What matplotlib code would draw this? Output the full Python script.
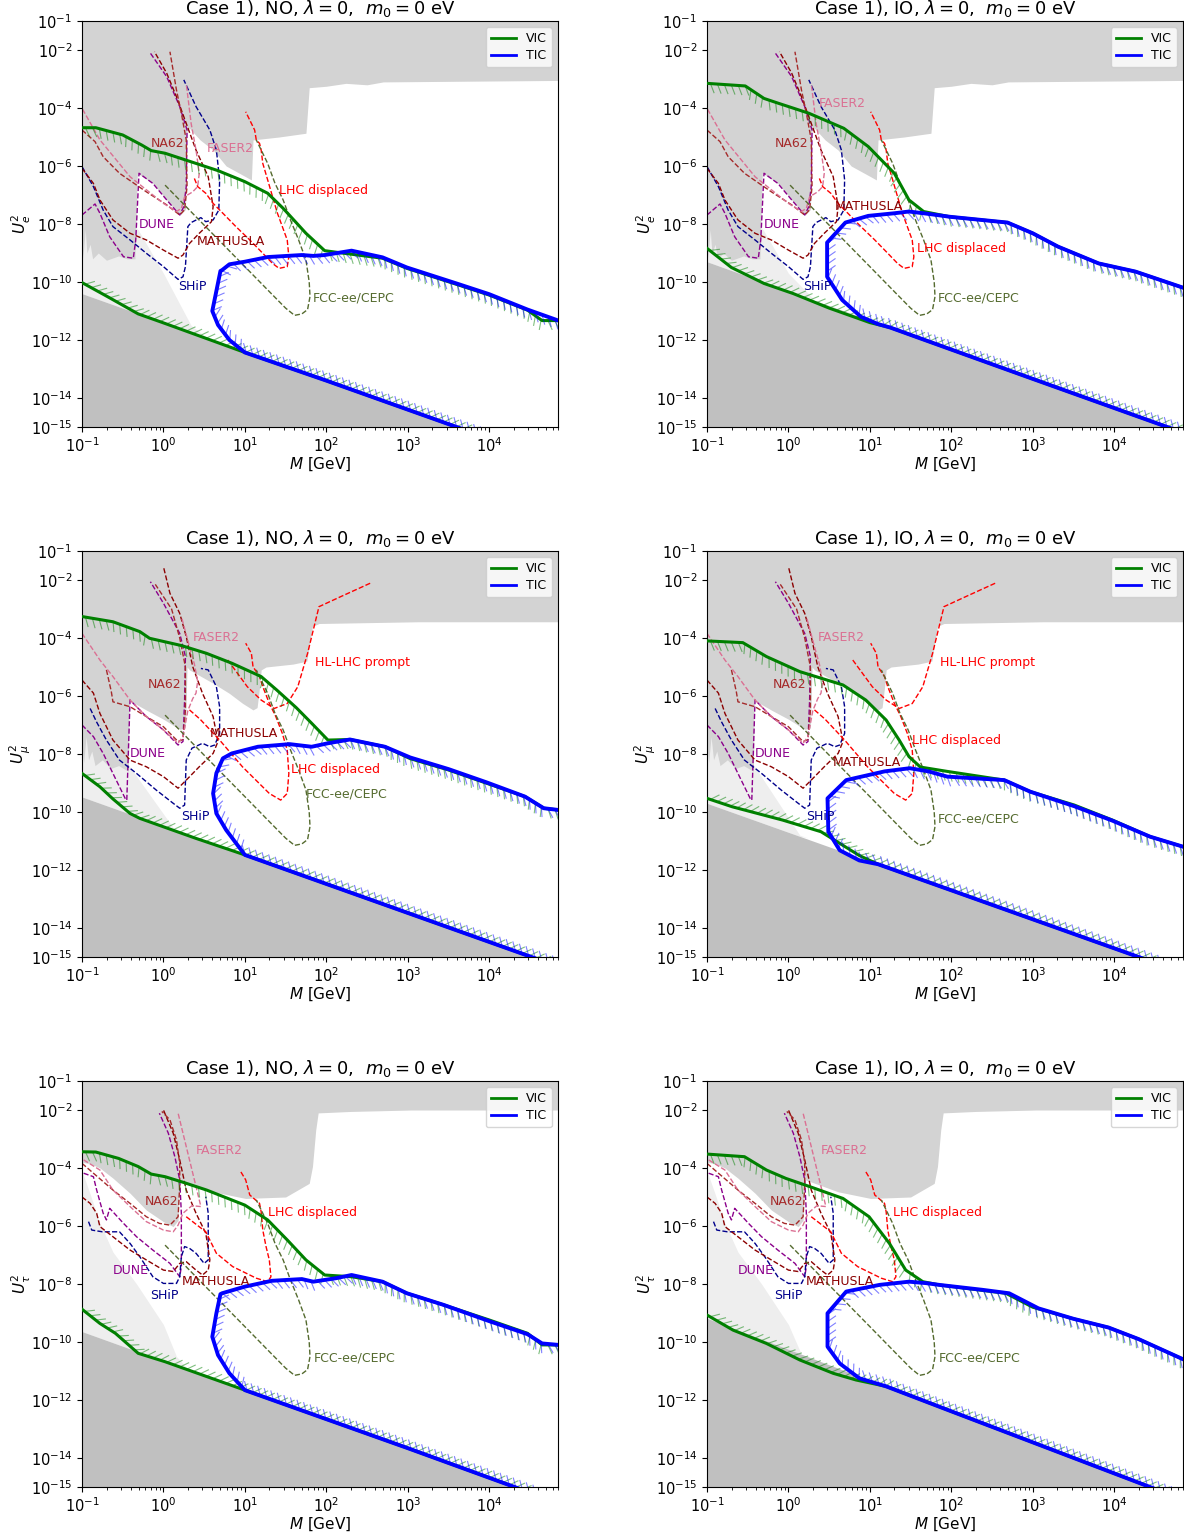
import numpy as np
import matplotlib
matplotlib.use('Agg')
import matplotlib.pyplot as plt
from matplotlib import patheffects as pe
from matplotlib.lines import Line2D
from matplotlib.ticker import NullLocator

# all curves are stored as (log10 M [GeV], log10 U^2) pairs

# excluded region from past experiments (upper gray), per flavour
GRAY_E = [(-1.0, -8.3), (-0.99, -9.2), (-0.96, -8.2), (-0.94, -9.0), (-0.9, -8.7), (-0.87, -9.2),
          (-0.8, -9.0), (-0.7, -9.25), (-0.55, -9.1), (-0.45, -9.2), (-0.35, -9.2), (-0.32, -6.25),
          (-0.13, -6.6), (0.04, -7.17), (0.2, -7.7), (0.27, -7.5), (0.29, -4.76), (0.32, -4.7),
          (0.45, -5.1), (0.61, -5.45), (0.77, -6.0), (1.01, -6.37), (1.08, -6.48), (1.10, -5.1),
          (1.42, -5.0), (1.75, -4.87), (1.79, -3.3), (2.0, -3.25), (2.24, -3.15), (2.5, -3.2),
          (2.7, -3.1), (4.85, -3.05)]
GRAY_MU = [(-1.0, -7.75), (-0.98, -8.3), (-0.95, -7.4), (-0.92, -8.2), (-0.88, -7.9), (-0.84, -8.4),
           (-0.75, -8.2), (-0.65, -8.5), (-0.55, -8.4), (-0.43, -8.6), (-0.42, -6.15), (-0.2, -6.5),
           (0.0, -6.8), (0.2, -7.15), (0.27, -7.1), (0.29, -5.0), (0.32, -5.1), (0.61, -5.56),
           (0.81, -5.91), (0.97, -6.25), (1.10, -6.48), (1.15, -6.4), (1.18, -5.7), (1.2, -5.1),
           (1.26, -5.0), (1.59, -4.9), (1.76, -4.8), (1.83, -3.6), (1.91, -3.5), (3.13, -3.44),
           (4.85, -3.44)]
GRAY_TAU = [(-1.0, -3.8), (-0.9, -3.85), (-0.78, -4.0), (-0.62, -4.35), (-0.41, -4.87), (-0.21, -5.45),
            (0.0, -5.85), (0.12, -6.02), (0.18, -5.8), (0.2, -4.4), (0.61, -4.82), (1.01, -5.05),
            (1.5, -5.0), (1.79, -4.53), (1.83, -3.95), (1.87, -2.69), (1.9, -2.1), (2.3, -2.05),
            (3.05, -2.0), (4.85, -2.0)]

# BBN edge (light gray), per flavour
BBN_E = [(-1.0, -6.5), (-0.31, -8.2), (0.0, -9.7), (0.34, -11.5), (0.6, -12.8)]
BBN_MU = [(-1.0, -6.5), (-0.41, -8.45), (0.14, -10.8), (0.5, -12.4)]
BBN_TAU = [(-1.0, -4.1), (-0.9, -4.9), (-0.78, -5.9), (-0.62, -6.9), (-0.33, -8.0), (0.0, -9.4),
           (0.16, -10.5), (0.35, -11.6)]

# seesaw lower bound (dark gray), per panel
SEESAW_E_NO = [(-1.0, -10.4), (4.85, -16.25)]
SEESAW_E_IO = [(-1.0, -9.3), (4.85, -15.2)]
SEESAW_MU_NO = [(-1.0, -9.48), (4.85, -15.33)]
SEESAW_MU_IO = [(-1.0, -9.7), (4.85, -15.55)]
SEESAW_TAU_NO = [(-1.0, -9.64), (4.85, -15.55)]
SEESAW_TAU_IO = [(-1.0, -9.18), (4.85, -15.44)]

# VIC upper / lower edges and TIC contour, per panel
VIC_UP_E_NO = [(-1.0, -4.68), (-0.83, -4.68), (-0.5, -4.93), (-0.265, -5.28), (-0.15, -5.47), (0.02, -5.56),
               (0.67, -6.16), (1.0, -6.54), (1.28, -6.94), (1.47, -7.46), (1.75, -8.32), (1.98, -8.92),
               (2.22, -9.01), (2.69, -9.18), (2.99, -9.53), (3.62, -10.1), (4.0, -10.45), (4.47, -10.97),
               (4.65, -11.33), (4.85, -11.33)]
VIC_LO_E_NO = [(-1.0, -10.02), (-0.69, -10.5), (-0.31, -11.1), (0.02, -11.43), (1.0, -12.43), (2.0, -13.4),
               (3.0, -14.4), (4.85, -16.25)]
TIC_E_NO = [(4.85, -11.33), (4.47, -10.95), (4.0, -10.42), (3.62, -10.07), (2.99, -9.5), (2.69, -9.15),
            (2.31, -8.92), (1.98, -9.07), (1.84, -9.1), (1.7, -9.07), (1.28, -9.14), (1.0, -9.3),
            (0.81, -9.39), (0.72, -9.59), (0.70, -9.62), (0.60, -11.0), (0.67, -11.48), (0.81, -12.0),
            (1.0, -12.43), (2.0, -13.4), (3.0, -14.4), (4.85, -16.25)]

VIC_UP_E_IO = [(-1.0, -3.15), (-0.53, -3.24), (-0.30, -3.67), (-0.12, -3.84), (0.25, -4.18), (0.68, -4.70),
               (0.98, -5.33), (1.30, -6.25), (1.48, -7.17), (1.66, -7.57), (1.98, -7.75), (2.69, -7.95),
               (3.0, -8.32), (3.31, -8.78), (3.81, -9.36), (4.26, -9.64), (4.85, -10.2)]
VIC_LO_E_IO = [(-1.0, -8.84), (-0.7, -9.5), (-0.3, -10.05), (0.06, -10.4), (0.5, -10.9), (1.0, -11.4),
               (1.25, -11.57), (2.0, -12.33), (3.0, -13.34), (4.85, -15.2)]
TIC_E_IO = [(4.85, -10.2), (4.26, -9.64), (3.81, -9.36), (3.31, -8.78), (3.0, -8.32), (2.69, -7.95),
            (1.98, -7.75), (1.85, -7.7), (1.66, -7.63), (1.48, -7.57), (1.30, -7.63), (0.98, -7.72),
            (0.70, -7.95), (0.475, -8.64), (0.475, -9.82), (0.66, -10.62), (0.89, -11.2), (1.1, -11.45),
            (1.25, -11.57), (2.0, -12.33), (3.0, -13.34), (4.85, -15.2)]

VIC_UP_MU_NO = [(-1.0, -3.26), (-0.62, -3.44), (-0.29, -3.78), (-0.17, -4.01), (0.22, -4.26), (0.53, -4.53),
                (0.84, -4.87), (1.2, -5.33), (1.39, -5.79), (1.63, -6.4), (1.82, -6.94), (2.02, -7.52),
                (2.29, -7.5), (2.72, -7.75), (3.03, -8.16), (3.5, -8.55), (3.97, -9.01), (4.44, -9.47),
                (4.67, -9.87), (4.85, -9.93)]
VIC_LO_MU_NO = [(-1.0, -8.67), (-0.78, -9.13), (-0.62, -9.55), (-0.41, -10.05), (-0.29, -10.22), (0.0, -10.51),
                (0.4, -10.91), (1.0, -11.48), (2.0, -12.48), (3.0, -13.48), (4.85, -15.33)]
TIC_MU_NO = [(4.85, -9.93), (4.67, -9.87), (4.44, -9.47), (3.97, -8.98), (3.5, -8.52), (3.03, -8.12),
             (2.72, -7.75), (2.29, -7.5), (2.02, -7.63), (1.82, -7.75), (1.55, -7.66), (1.16, -7.75),
             (0.84, -7.98), (0.73, -8.15), (0.65, -8.66), (0.61, -9.36), (0.65, -10.05), (0.77, -10.62),
             (1.0, -11.48), (2.0, -12.48), (3.0, -13.48), (4.85, -15.33)]

VIC_UP_MU_IO = [(-1.0, -4.1), (-0.56, -4.16), (-0.27, -4.64), (0.14, -5.16), (0.67, -5.62), (0.95, -6.14),
                (1.2, -6.83), (1.36, -7.52), (1.48, -8.09), (1.62, -8.45), (1.95, -8.6), (2.65, -8.9),
                (2.97, -9.3), (3.51, -9.76), (3.98, -10.28), (4.44, -10.85), (4.85, -11.2)]
VIC_LO_MU_IO = [(-1.0, -9.53), (-0.69, -9.82), (-0.07, -10.28), (0.4, -10.68), (0.87, -11.5), (1.1, -11.8),
                (2.0, -12.7), (3.0, -13.7), (4.85, -15.55)]
TIC_MU_IO = [(4.85, -11.2), (4.44, -10.85), (3.98, -10.3), (3.51, -9.8), (2.97, -9.3), (2.65, -8.9),
             (1.95, -8.78), (1.72, -8.6), (1.49, -8.49), (1.18, -8.6), (0.71, -8.9), (0.48, -9.53),
             (0.49, -10.68), (0.63, -11.32), (0.87, -11.67), (1.1, -11.8), (2.0, -12.7), (3.0, -13.7),
             (4.85, -15.55)]

VIC_UP_TAU_NO = [(-1.0, -3.44), (-0.83, -3.45), (-0.55, -3.67), (-0.31, -3.95), (-0.15, -4.21), (0.02, -4.3),
                 (0.25, -4.5), (0.53, -4.76), (1.0, -5.28), (1.28, -5.79), (1.52, -6.48), (1.75, -7.17),
                 (1.98, -7.69), (2.31, -7.75), (2.69, -7.92), (2.99, -8.32), (3.44, -8.72), (4.0, -9.24),
                 (4.47, -9.7), (4.65, -10.1), (4.85, -10.1)]
VIC_LO_TAU_NO = [(-1.0, -8.87), (-0.78, -9.36), (-0.59, -9.7), (-0.31, -10.39), (0.02, -10.68), (1.0, -11.66),
                 (2.0, -12.66), (3.0, -13.66), (4.85, -15.55)]
TIC_TAU_NO = [(4.85, -10.1), (4.65, -10.05), (4.47, -9.73), (4.0, -9.28), (3.44, -8.72), (2.99, -8.32),
              (2.69, -7.92), (2.31, -7.69), (2.12, -7.8), (1.84, -7.92), (1.70, -7.83), (1.33, -7.89),
              (1.0, -8.09), (0.72, -8.32), (0.70, -8.35), (0.65, -9.01), (0.60, -9.82), (0.67, -10.45),
              (0.81, -11.08), (1.0, -11.66), (2.0, -12.66), (3.0, -13.66), (4.85, -15.55)]

VIC_UP_TAU_IO = [(-1.0, -3.52), (-0.54, -3.61), (-0.27, -4.07), (-0.03, -4.36), (0.26, -4.64), (0.67, -5.05),
                 (0.99, -5.68), (1.24, -6.6), (1.44, -7.52), (1.65, -7.92), (1.85, -8.03), (2.18, -8.15),
                 (2.67, -8.32), (3.0, -8.8), (3.5, -9.2), (3.93, -9.5), (4.3, -9.9), (4.85, -10.6)]
VIC_LO_TAU_IO = [(-1.0, -9.07), (-0.68, -9.59), (-0.27, -10.05), (0.14, -10.62), (0.55, -11.08),
                 (0.83, -11.31), (1.2, -11.53), (2.0, -12.39), (3.0, -13.46), (4.85, -15.44)]
TIC_TAU_IO = [(4.85, -10.6), (4.3, -9.9), (3.93, -9.5), (3.5, -9.2), (3.07, -8.84), (2.71, -8.32),
              (2.38, -8.2), (1.85, -8.03), (1.69, -7.97), (1.48, -7.92), (1.12, -8.03), (0.71, -8.26),
              (0.48, -9.01), (0.48, -10.16), (0.63, -10.74), (0.87, -11.25), (1.2, -11.53), (2.0, -12.39),
              (3.0, -13.46), (4.85, -15.44)]

# future experiment sensitivities, per flavour
FCC = [(0.02, -6.66), (0.5, -8.04), (1.0, -9.47), (1.3, -10.33), (1.5, -10.9), (1.61, -11.15), (1.7, -11.1),
       (1.77, -10.95), (1.80, -10.5), (1.79, -10.0), (1.75, -9.24), (1.66, -8.55), (1.56, -7.86),
       (1.47, -7.17), (1.37, -6.6), (1.28, -5.91), (1.14, -5.1)]

DUNE_E = [(-1.0, -7.69), (-0.84, -7.31), (-0.78, -7.63), (-0.66, -8.44), (-0.49, -9.13), (-0.37, -9.18),
          (-0.34, -8.55), (-0.30, -6.25), (-0.13, -6.6), (0.04, -7.17), (0.20, -7.69), (0.25, -7.4),
          (0.28, -6.71), (0.29, -4.76), (0.20, -3.95), (0.04, -2.92), (-0.16, -2.11)]
SHIP_E = [(-1.0, -6.02), (-0.86, -6.71), (-0.74, -7.52), (-0.62, -8.09), (-0.41, -8.55), (-0.21, -9.01),
          (0.0, -9.47), (0.18, -9.91), (0.24, -9.82), (0.27, -9.47), (0.30, -8.09), (0.34, -7.95),
          (0.46, -7.78), (0.52, -7.92), (0.61, -7.86), (0.68, -7.52), (0.69, -6.48), (0.65, -5.45),
          (0.57, -4.76), (0.40, -3.95), (0.25, -3.03)]
MATHUSLA_E = [(-1.0, -6.08), (-0.86, -6.6), (-0.78, -7.17), (-0.62, -7.86), (-0.41, -8.32), (-0.21, -8.55),
              (0.0, -8.9), (0.18, -9.18), (0.24, -9.07), (0.32, -8.67), (0.44, -8.32), (0.59, -7.92),
              (0.61, -7.4), (0.55, -6.37), (0.40, -5.45), (0.28, -4.53), (0.16, -3.61), (0.04, -2.8),
              (-0.11, -2.06)]
NA62_E = [(-1.0, -4.76), (-0.84, -5.16), (-0.74, -5.68), (-0.54, -6.25), (-0.21, -6.89), (0.04, -7.34),
          (0.20, -7.69), (0.26, -7.51), (0.29, -6.71), (0.28, -5.1), (0.22, -4.18), (0.16, -3.38),
          (0.08, -2.06)]
FASER2_E = [(-1.0, -3.03), (-1.0, -4.01), (-0.78, -5.1), (-0.41, -6.37), (0.0, -7.29), (0.16, -7.57),
            (0.22, -7.46), (0.26, -7.06), (0.36, -6.89), (0.42, -6.71), (0.44, -6.25), (0.40, -5.45),
            (0.34, -4.53), (0.28, -3.15)]
LHC_E = [(0.38, -6.43), (0.42, -6.71), (0.52, -6.94), (0.61, -7.29), (0.73, -7.63), (0.89, -8.09),
         (1.06, -8.55), (1.22, -9.01), (1.34, -9.36), (1.42, -9.53), (1.52, -9.47), (1.54, -9.13),
         (1.52, -8.55), (1.46, -8.09), (1.40, -7.63), (1.34, -7.06), (1.28, -6.48), (1.22, -5.91),
         (1.20, -5.45), (1.18, -5.22), (1.14, -5.1), (1.12, -4.76), (1.08, -4.53), (1.01, -4.13)]

DUNE_MU = [(-1.0, -7.0), (-0.86, -7.4), (-0.74, -7.98), (-0.62, -8.67), (-0.47, -9.53), (-0.45, -9.59),
           (-0.41, -6.14), (-0.21, -6.71), (0.0, -7.17), (0.18, -7.69), (0.24, -7.57), (0.26, -6.14),
           (0.27, -4.64), (0.2, -3.84), (0.0, -2.8), (-0.16, -2.06)]
SHIP_MU = [(-0.9, -6.43), (-0.82, -6.9), (-0.70, -7.52), (-0.54, -8.21), (-0.33, -8.67), (-0.09, -9.24),
           (0.12, -9.7), (0.2, -9.87), (0.26, -9.76), (0.28, -8.21), (0.35, -7.8), (0.48, -7.63),
           (0.57, -7.75), (0.63, -7.69), (0.69, -7.29), (0.69, -6.37), (0.65, -5.68), (0.55, -5.1),
           (0.46, -5.05)]
MATHUSLA_MU = [(-1.0, -5.45), (-0.86, -5.9), (-0.78, -6.6), (-0.62, -7.52), (-0.41, -8.21), (-0.21, -8.44),
               (0.0, -8.78), (0.18, -9.18), (0.28, -8.9), (0.44, -8.44), (0.61, -7.98), (0.67, -7.57),
               (0.61, -6.71), (0.48, -5.91), (0.36, -4.99), (0.28, -3.95), (0.2, -3.15), (0.08, -2.46),
               (0.0, -1.54)]
NA62_MU = [(-0.70, -5.1), (-0.64, -5.85), (-0.62, -6.2), (-0.41, -6.37), (-0.21, -6.71), (0.0, -7.06),
           (0.18, -7.57), (0.24, -7.5), (0.27, -6.5), (0.27, -5.0), (0.2, -4.0), (0.1, -3.0), (-0.1, -2.15)]
FASER2_MU = [(-1.0, -3.84), (-0.78, -4.76), (-0.62, -5.33), (-0.41, -6.14), (-0.21, -6.71), (0.0, -7.17),
             (0.18, -7.63), (0.24, -7.4), (0.3, -6.5), (0.36, -6.09), (0.4, -5.9), (0.42, -5.5),
             (0.38, -4.9), (0.32, -4.3), (0.22, -3.26)]
LHC_MU = [(0.32, -6.48), (0.45, -6.8), (0.69, -7.52), (0.97, -8.44), (1.30, -9.36), (1.44, -9.59),
          (1.52, -9.36), (1.54, -8.67), (1.52, -7.86), (1.46, -7.29), (1.38, -6.71), (1.30, -6.25),
          (1.22, -5.68), (1.18, -5.33), (1.10, -4.99), (1.08, -4.53), (1.01, -4.18)]
HL_LHC_MU = [(0.79, -4.76), (1.03, -5.68), (1.2, -6.14), (1.36, -6.43), (1.52, -6.26), (1.65, -5.68),
             (1.77, -4.53), (1.85, -3.61), (1.91, -2.92), (2.18, -2.57), (2.54, -2.11)]

DUNE_TAU = [(-0.98, -4.18), (-0.86, -4.3), (-0.82, -4.76), (-0.74, -5.56), (-0.70, -5.79), (-0.66, -5.39),
            (-0.49, -5.91), (-0.33, -6.37), (-0.13, -6.83), (0.08, -7.29), (0.20, -7.75), (0.22, -7.4),
            (0.22, -5.56), (0.2, -4.41), (0.14, -3.61), (0.06, -2.8), (-0.05, -2.11)]
SHIP_TAU = [(-0.92, -5.85), (-0.88, -6.14), (-0.75, -6.2), (-0.54, -6.2), (-0.41, -6.6), (-0.29, -7.06),
            (-0.13, -7.75), (0.0, -7.98), (0.16, -7.98), (0.2, -7.75), (0.22, -7.06), (0.26, -6.71),
            (0.32, -6.77), (0.40, -6.94), (0.50, -7.29), (0.55, -7.17), (0.55, -5.56), (0.52, -4.99)]
MATHUSLA_TAU = [(-1.0, -5.0), (-0.9, -5.22), (-0.82, -5.56), (-0.78, -6.02), (-0.62, -6.37), (-0.41, -6.83),
                (-0.21, -7.17), (0.0, -7.52), (0.12, -7.57), (0.20, -7.29), (0.28, -7.23), (0.40, -7.52),
                (0.48, -7.69), (0.55, -7.52), (0.57, -7.17), (0.52, -6.25), (0.40, -5.56), (0.28, -4.76),
                (0.2, -3.72), (0.12, -2.8), (0.0, -2.0)]
NA62_TAU = [(-1.0, -3.84), (-0.62, -4.76), (-0.41, -5.22), (-0.21, -5.68), (-0.05, -5.91), (0.08, -5.97),
            (0.18, -5.68), (0.2, -4.6), (0.2, -3.84), (0.16, -3.03), (0.08, -2.34), (-0.02, -2.05)]
FASER2_TAU = [(-0.98, -3.72), (-0.78, -4.07), (-0.62, -4.76), (-0.41, -5.33), (-0.21, -5.85), (0.0, -6.14),
              (0.12, -6.2), (0.18, -5.97), (0.24, -5.56), (0.35, -5.3), (0.46, -5.33), (0.40, -4.64),
              (0.32, -3.72), (0.24, -2.8), (0.18, -2.11)]
LHC_TAU = [(0.28, -5.68), (0.52, -6.2), (0.65, -6.94), (0.85, -7.4), (1.14, -7.8), (1.28, -7.92),
           (1.32, -7.75), (1.3, -7.17), (1.26, -6.71), (1.22, -6.14), (1.20, -5.51), (1.18, -5.22),
           (1.06, -4.93), (1.01, -4.41), (0.95, -4.13)]

# label positions (log10 M, log10 U^2), per panel
LABELS_E_NO = {'NA62': (0.05, -5.21), 'FASER2': (0.82, -5.41), 'LHC displaced': (1.97, -6.86),
               'DUNE': (-0.08, -8.03), 'MATHUSLA': (0.83, -8.59), 'SHiP': (0.36, -10.17),
               'FCC-ee/CEPC': (2.33, -10.55)}
LABELS_E_IO = {'FASER2': (0.66, -3.86), 'NA62': (0.04, -5.21), 'MATHUSLA': (0.99, -7.41),
               'DUNE': (-0.08, -8.03), 'LHC displaced': (2.12, -8.86), 'SHiP': (0.36, -10.17),
               'FCC-ee/CEPC': (2.33, -10.55)}
LABELS_MU_NO = {'FASER2': (0.65, -3.97), 'HL-LHC prompt': (2.44, -4.86), 'NA62': (0.015, -5.62),
                'MATHUSLA': (0.99, -7.28), 'DUNE': (-0.19, -7.97), 'LHC displaced': (2.11, -8.55),
                'FCC-ee/CEPC': (2.25, -9.38), 'SHiP': (0.39, -10.17)}
LABELS_MU_IO = {'FASER2': (0.65, -3.97), 'HL-LHC prompt': (2.44, -4.86), 'NA62': (0.015, -5.62),
                'LHC displaced': (2.06, -7.55), 'DUNE': (-0.19, -7.97), 'MATHUSLA': (0.96, -8.28),
                'SHiP': (0.39, -10.17), 'FCC-ee/CEPC': (2.33, -10.24)}
LABELS_TAU_NO = {'FASER2': (0.68, -3.38), 'NA62': (-0.02, -5.17), 'LHC displaced': (1.83, -5.55),
                 'DUNE': (-0.40, -7.55), 'MATHUSLA': (0.64, -7.93), 'SHiP': (0.015, -8.38),
                 'FCC-ee/CEPC': (2.35, -10.55)}
LABELS_TAU_IO = {'FASER2': (0.68, -3.38), 'NA62': (-0.02, -5.17), 'LHC displaced': (1.83, -5.55),
                 'DUNE': (-0.40, -7.55), 'MATHUSLA': (0.63, -7.93), 'SHiP': (0.0, -8.38),
                 'FCC-ee/CEPC': (2.35, -10.55)}

EXP_COLORS = {'DUNE': 'darkmagenta', 'SHiP': 'darkblue', 'MATHUSLA': 'darkred', 'NA62': 'brown',
              'FASER2': 'palevioletred', 'LHC displaced': 'red', 'HL-LHC prompt': 'red',
              'FCC-ee/CEPC': 'darkolivegreen'}

FLAVOURS = {
    'e': dict(gray=GRAY_E, bbn=BBN_E, ylabel=r'$U_e^2$',
              curves={'DUNE': DUNE_E, 'SHiP': SHIP_E, 'MATHUSLA': MATHUSLA_E, 'NA62': NA62_E,
                      'FASER2': FASER2_E, 'LHC displaced': LHC_E, 'FCC-ee/CEPC': FCC}),
    'mu': dict(gray=GRAY_MU, bbn=BBN_MU, ylabel=r'$U_\mu^2$',
               curves={'DUNE': DUNE_MU, 'SHiP': SHIP_MU, 'MATHUSLA': MATHUSLA_MU, 'NA62': NA62_MU,
                       'FASER2': FASER2_MU, 'LHC displaced': LHC_MU, 'HL-LHC prompt': HL_LHC_MU,
                       'FCC-ee/CEPC': FCC}),
    'tau': dict(gray=GRAY_TAU, bbn=BBN_TAU, ylabel=r'$U_\tau^2$',
                curves={'DUNE': DUNE_TAU, 'SHiP': SHIP_TAU, 'MATHUSLA': MATHUSLA_TAU, 'NA62': NA62_TAU,
                        'FASER2': FASER2_TAU, 'LHC displaced': LHC_TAU, 'FCC-ee/CEPC': FCC}),
}

PANELS = [
    (0, 0, 'e', 'NO', SEESAW_E_NO, VIC_UP_E_NO, VIC_LO_E_NO, TIC_E_NO, LABELS_E_NO),
    (0, 1, 'e', 'IO', SEESAW_E_IO, VIC_UP_E_IO, VIC_LO_E_IO, TIC_E_IO, LABELS_E_IO),
    (1, 0, 'mu', 'NO', SEESAW_MU_NO, VIC_UP_MU_NO, VIC_LO_MU_NO, TIC_MU_NO, LABELS_MU_NO),
    (1, 1, 'mu', 'IO', SEESAW_MU_IO, VIC_UP_MU_IO, VIC_LO_MU_IO, TIC_MU_IO, LABELS_MU_IO),
    (2, 0, 'tau', 'NO', SEESAW_TAU_NO, VIC_UP_TAU_NO, VIC_LO_TAU_NO, TIC_TAU_NO, LABELS_TAU_NO),
    (2, 1, 'tau', 'IO', SEESAW_TAU_IO, VIC_UP_TAU_IO, VIC_LO_TAU_IO, TIC_TAU_IO, LABELS_TAU_IO),
]


def xy(pts):
    a = np.array(pts, dtype=float)
    return 10 ** a[:, 0], 10 ** a[:, 1]


def ticked(ax, pts, color, lw, angle, z):
    # light ticks on the allowed side, solid edge on top
    x, y = xy(pts)
    ax.plot(x, y, color=color, lw=0.8, alpha=0.5, zorder=z,
            path_effects=[pe.TickedStroke(angle=angle, spacing=5, length=1.4)])
    ax.plot(x, y, color=color, lw=lw, zorder=z + 0.1, solid_joinstyle='round')


fig = plt.figure(figsize=(11.84, 15.33), dpi=100)
ax_w, ax_h = 476 / 1184, 406 / 1533
lefts = [82 / 1184, 707 / 1184]
bottoms = [1 - 427 / 1533, 1 - 957 / 1533, 1 - 1487 / 1533]

for row, col, flav, order, seesaw, vic_up, vic_lo, tic, labels in PANELS:
    f = FLAVOURS[flav]
    ax = fig.add_axes([lefts[col], bottoms[row], ax_w, ax_h])
    ax.set_xscale('log')
    ax.set_yscale('log')

    s = np.array(seesaw, dtype=float)

    # BBN region, between its edge and the seesaw line
    bx, by = xy(f['bbn'])
    sy = 10 ** np.interp(np.log10(bx), s[:, 0], s[:, 1])
    ax.fill_between(bx, sy, by, where=by > sy, interpolate=True, color='#eeeeee', lw=0, zorder=0.3)

    # past constraints
    gx, gy = xy(f['gray'])
    ax.fill_between(gx, gy, 1.0, color='lightgray', lw=0, zorder=0.5)

    # seesaw lower bound
    sx, sy2 = xy(seesaw)
    ax.fill_between(sx, 1e-20, sy2, color='silver', lw=0, zorder=0.6)

    for name, pts in f['curves'].items():
        cx, cy = xy(pts)
        ax.plot(cx, cy, ls='--', lw=1.0, color=EXP_COLORS[name], zorder=2)

    for name, (lx, ly) in labels.items():
        ax.text(10 ** lx, 10 ** ly, name, color=EXP_COLORS[name], fontsize=9,
                ha='center', va='center', zorder=5)

    ticked(ax, vic_up, 'green', 2.2, -65, 3)
    ticked(ax, vic_lo, 'green', 2.2, 45, 3)
    ticked(ax, tic, 'blue', 2.8, 125, 4)

    ax.set_xlim(0.1, 7e4)
    ax.set_ylim(1e-15, 1e-1)
    ax.set_xticks([1e-1, 1e0, 1e1, 1e2, 1e3, 1e4])
    ax.set_yticks([1e-15, 1e-14, 1e-12, 1e-10, 1e-8, 1e-6, 1e-4, 1e-2, 1e-1])
    ax.yaxis.set_minor_locator(NullLocator())
    ax.tick_params(labelsize=10.5)
    ax.set_xlabel(r'$M$ [GeV]', fontsize=11, labelpad=0)
    ax.set_ylabel(f['ylabel'], fontsize=11, labelpad=-2)
    ax.set_title(rf'Case 1), {order}, $\lambda = 0$,  $m_0 = 0$ eV', fontsize=13, pad=5)

    handles = [Line2D([], [], color='green', lw=2, label='VIC'),
               Line2D([], [], color='blue', lw=2, label='TIC')]
    ax.legend(handles=handles, loc='upper right', fontsize=9, labelspacing=0.3)

fig.savefig('out.png', dpi=100)
